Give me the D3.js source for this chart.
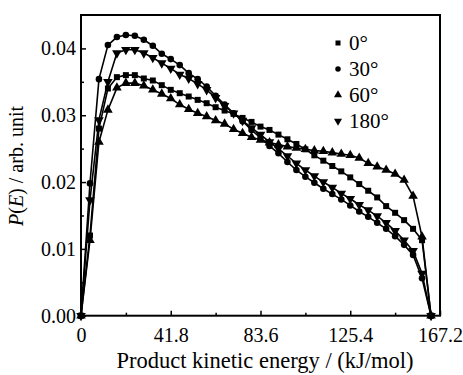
<!DOCTYPE html>
<html>
<head>
<meta charset="utf-8">
<script src="https://cdn.jsdelivr.net/npm/d3@7"></script>
<style>
body { margin: 0; background: #fff; }
svg text { font-family: "Liberation Serif", "Times New Roman", Times, "DejaVu Serif", serif !important; fill: #000; }
</style>
</head>
<body>
<script>
let w = 463;
let h = 375;

// product kinetic energy (kJ/mol), one point every 4.18
let energy = [0, 4.18, 8.36, 12.54, 16.72, 20.9, 25.08, 29.26, 33.44, 37.62,
    41.8, 45.98, 50.16, 54.34, 58.52, 62.7, 66.88, 71.06, 75.24, 79.42,
    83.6, 87.78, 91.96, 96.14, 100.32, 104.5, 108.68, 112.86, 117.04, 121.22,
    125.4, 129.58, 133.76, 137.94, 142.12, 146.3, 150.48, 154.66, 158.84, 163.02];

let p0 = [0, 0.0120, 0.0280, 0.0340, 0.0357, 0.0360, 0.0360, 0.0355, 0.0352, 0.0345,
    0.0338, 0.0333, 0.0328, 0.0323, 0.0318, 0.0312, 0.0307, 0.0302, 0.0296, 0.0290,
    0.0283, 0.0278, 0.0271, 0.0264, 0.0257, 0.0249, 0.0240, 0.0232, 0.0224, 0.0216,
    0.0207, 0.0197, 0.0187, 0.0177, 0.0164, 0.0154, 0.0143, 0.0130, 0.0113, 0];

let p30 = [0, 0.0198, 0.0354, 0.0405, 0.0417, 0.0420, 0.0419, 0.0413, 0.0404, 0.0392,
    0.0384, 0.0375, 0.0363, 0.0354, 0.0343, 0.0329, 0.0316, 0.0303, 0.0291, 0.0278,
    0.0266, 0.0254, 0.0243, 0.0230, 0.0218, 0.0208, 0.0199, 0.0190, 0.0182, 0.0174,
    0.0165, 0.0156, 0.0148, 0.0139, 0.0130, 0.0119, 0.0106, 0.0091, 0.0056, 0];

let p60 = [0, 0.0113, 0.0260, 0.0308, 0.0341, 0.0348, 0.0348, 0.0344, 0.0338, 0.0332,
    0.0325, 0.0316, 0.0309, 0.0303, 0.0298, 0.0292, 0.0287, 0.0279, 0.0273, 0.0267,
    0.0263, 0.0259, 0.0256, 0.0253, 0.0251, 0.0249, 0.0247, 0.0246, 0.0244, 0.0242,
    0.0240, 0.0236, 0.0228, 0.0223, 0.0218, 0.0212, 0.0203, 0.0179, 0.0118, 0];

let p180 = [0, 0.0173, 0.0293, 0.0350, 0.0393, 0.0398, 0.0398, 0.0393, 0.0386, 0.0378,
    0.0370, 0.0361, 0.0355, 0.0347, 0.0338, 0.0326, 0.0314, 0.0303, 0.0292, 0.0281,
    0.0271, 0.0260, 0.0250, 0.0239, 0.0228, 0.0218, 0.0209, 0.0200, 0.0192, 0.0183,
    0.0175, 0.0166, 0.0158, 0.0149, 0.0139, 0.0127, 0.0113, 0.0097, 0.0063, 0];

let labels = ["0\u00b0", "30\u00b0", "60\u00b0", "180\u00b0"];
let xTicks = [0, 41.8, 83.6, 125.4, 167.2];
let xMinor = [20.9, 62.7, 104.5, 146.3];
let yTicks = [0, 0.01, 0.02, 0.03, 0.04];
let yMinor = [0.005, 0.015, 0.025, 0.035];

let series = [
    {name: labels[0], values: p0, shape: d3.symbolSquare, size: 36, rot: 0},
    {name: labels[1], values: p30, shape: d3.symbolCircle, size: 34, rot: 0},
    {name: labels[2], values: p60, shape: d3.symbolTriangle, size: 40, rot: 0},
    {name: labels[3], values: p180, shape: d3.symbolTriangle, size: 40, rot: 180}
];

let padL = 81, padR = 440, padT = 15, padB = 315.7;

let xScale = d3.scaleLinear().domain([0, 167.2]).range([padL, padR]);
let yScale = d3.scaleLinear().domain([0, 0.045]).range([padB, padT]);

let svg = d3.select("body").append("svg")
    .attr("width", w)
    .attr("height", h);

// axes, ticks pointing inward
let xAxis = svg.append("g")
    .attr("transform", "translate(0," + padB + ")")
    .call(d3.axisBottom(xScale).tickValues(xTicks).tickSize(-5).tickFormat(d3.format("")));
svg.append("g")
    .attr("transform", "translate(0," + padB + ")")
    .call(d3.axisBottom(xScale).tickValues(xMinor).tickSize(-3).tickFormat(""));

let yAxis = svg.append("g")
    .attr("transform", "translate(" + padL + ",0)")
    .call(d3.axisLeft(yScale).tickValues(yTicks).tickSize(-5).tickFormat(d3.format(".2f")));
svg.append("g")
    .attr("transform", "translate(" + padL + ",0)")
    .call(d3.axisLeft(yScale).tickValues(yMinor).tickSize(-3).tickFormat(""));

svg.selectAll(".domain").remove();
svg.selectAll("g").attr("font-family", null);
svg.selectAll(".tick line").attr("stroke", "#000").attr("stroke-width", 1.5);

xAxis.selectAll("text")
    .attr("y", 12)
    .attr("font-size", 20);
yAxis.selectAll("text")
    .attr("x", -5)
    .attr("font-size", 20);

// frame
svg.append("rect")
    .attr("x", padL)
    .attr("y", padT)
    .attr("width", padR - padL)
    .attr("height", padB - padT)
    .attr("fill", "none")
    .attr("stroke", "#000")
    .attr("stroke-width", 2);

let line = d3.line()
    .x(function(d, i) { return xScale(energy[i]); })
    .y(function(d) { return yScale(d); });

series.forEach(function(s) {
    svg.append("path")
        .datum(s.values)
        .attr("d", line)
        .attr("fill", "none")
        .attr("stroke", "#000")
        .attr("stroke-width", 1.6);

    svg.append("g")
        .selectAll("path")
        .data(s.values)
        .enter()
        .append("path")
        .attr("d", d3.symbol().type(s.shape).size(s.size))
        .attr("transform", function(d, i) {
            return "translate(" + xScale(energy[i]) + "," + yScale(d) + ") rotate(" + s.rot + ")";
        })
        .attr("fill", "#000");
});

// legend
let legend = svg.append("g");
series.forEach(function(s, i) {
    let ly = 43 + i * 26;
    legend.append("path")
        .attr("d", d3.symbol().type(s.shape).size(s.size * 0.7))
        .attr("transform", "translate(338," + ly + ") rotate(" + s.rot + ")")
        .attr("fill", "#000");
    legend.append("text")
        .attr("x", 349)
        .attr("y", ly)
        .attr("dy", "0.35em")
        .attr("font-size", 21)
        .text(s.name);
});

// axis titles
svg.append("text")
    .attr("x", 265)
    .attr("y", 368)
    .attr("text-anchor", "middle")
    .attr("font-size", 22.5)
    .text("Product kinetic energy / (kJ/mol)");

let yTitle = svg.append("text")
    .attr("transform", "translate(23,166) rotate(-90)")
    .attr("text-anchor", "middle")
    .attr("font-size", 20);
yTitle.append("tspan").attr("font-style", "italic").text("P");
yTitle.append("tspan").text("(");
yTitle.append("tspan").attr("font-style", "italic").text("E");
yTitle.append("tspan").text(") / arb. unit");
</script>
</body>
</html>
